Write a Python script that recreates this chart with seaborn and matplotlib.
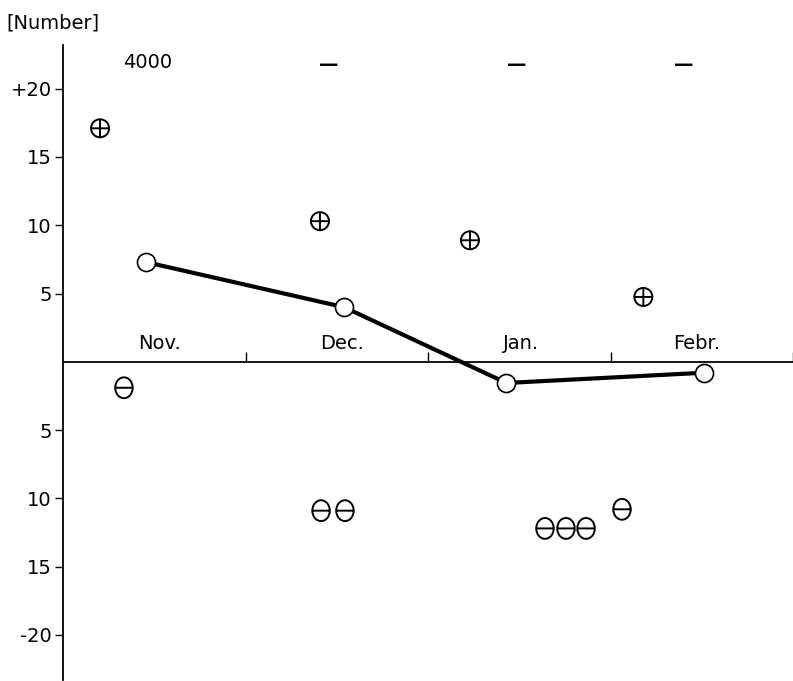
import numpy as np
import pandas as pd
import matplotlib
matplotlib.use("Agg")
import matplotlib.pyplot as plt
from matplotlib.path import Path
import seaborn as sns

# ---- data (x in months from 1 Nov; y = number) ----
mean_x = [0.455, 1.54, 2.43, 3.51]
mean_y = [7.3, 4.0, -1.55, -0.8]

plus_x = [0.203, 1.408, 2.23, 3.18]
plus_y = [17.1, 10.3, 8.9, 4.75]

minus_x = [0.334, 1.414, 1.545, 2.641, 2.756, 2.866, 3.063]
minus_y = [-1.9, -10.9, -10.9, -12.2, -12.2, -12.2, -10.8]

month_labels = ["Nov.", "Dec.", "Jan.", "Febr."]
month_label_x = [0.53, 1.53, 2.51, 3.47]
month_bounds = [1, 2, 3, 4]

ytick_vals = [20, 15, 10, 5, -5, -10, -15, -20]
ytick_labels = ["+20", "15", "10", "5", "5", "10", "15", "-20"]

top_texts = ["4000", "\u2014", "\u2014", "\u2014"]
top_x = [0.466, 1.458, 2.488, 3.403]
top_y = [21.95, 21.75, 21.75, 21.75]

# ---- style ----
sns.set_style("white")
plt.rcParams["font.family"] = ["DejaVu Sans"]
plt.rcParams["font.size"] = 14
plt.rcParams["text.color"] = "black"
plt.rcParams["ytick.color"] = "black"
plt.rcParams["ytick.labelcolor"] = "black"

fig = plt.figure(figsize=(7.93, 6.81), dpi=100)
ax = fig.add_axes([63 / 793, 1 / 681, 1 - 63 / 793, (680 - 45) / 681])

# custom markers
circ = Path.unit_circle()
cross_path = Path.make_compound_path(
    Path(circ.vertices * 0.5, circ.codes),
    Path([[0, -0.5], [0, 0.5]], [Path.MOVETO, Path.LINETO]),
    Path([[-0.5, 0], [0.5, 0]], [Path.MOVETO, Path.LINETO]),
)
ell_verts = circ.vertices * np.array([0.42, 0.5])
theta_path = Path.make_compound_path(
    Path(ell_verts, circ.codes),
    Path([[-0.42, 0], [0.42, 0]], [Path.MOVETO, Path.LINETO]),
)

df_mean = pd.DataFrame({"x": mean_x, "y": mean_y})
df_plus = pd.DataFrame({"x": plus_x, "y": plus_y})
df_minus = pd.DataFrame({"x": minus_x, "y": minus_y})

sns.lineplot(data=df_mean, x="x", y="y", ax=ax, color="black", linewidth=3.0,
             marker="o", markersize=13, markerfacecolor="white",
             markeredgecolor="black", markeredgewidth=1.2, estimator=None,
             sort=False, zorder=5)
sns.scatterplot(data=df_plus, x="x", y="y", ax=ax, marker=cross_path, s=13 ** 2,
                facecolor="none", edgecolor="black", linewidth=1.4, zorder=5)
sns.scatterplot(data=df_minus, x="x", y="y", ax=ax, marker=theta_path, s=15 ** 2,
                facecolor="none", edgecolor="black", linewidth=1.4, zorder=5)

# axes limits
ax.set_xlim(0, 4)
ax.set_ylim(-23.3, 23.2)

# spines
for s in ["top", "right", "bottom"]:
    ax.spines[s].set_visible(False)
ax.spines["left"].set_color("black")
ax.spines["left"].set_linewidth(1.3)

# zero line with month ticks
ax.axhline(0, color="black", linewidth=1.3, zorder=3)
ax.vlines(month_bounds, 0, 0.75, color="black", linewidth=1.0, clip_on=False)

for lab, xm in zip(month_labels, month_label_x):
    ax.text(xm, 1.35, lab, ha="center", va="center", fontsize=14)

for i, (t, xt, yt) in enumerate(zip(top_texts, top_x, top_y)):
    ax.text(xt, yt, t, ha="center", va="center", fontsize=14,
            fontweight="normal" if i == 0 else "bold")

ax.set_xticks([])
ax.set_yticks(ytick_vals)
ax.set_yticklabels(ytick_labels)
ax.tick_params(axis="y", direction="out", length=6, width=1.0, pad=2,
               labelsize=14, left=True, colors="black")
ax.set_xlabel("")
ax.set_ylabel("")

fig.text(6 / 793, 1 - 23 / 681, "[Number]", ha="left", va="center", fontsize=14)

fig.savefig("out.png", dpi=100)
